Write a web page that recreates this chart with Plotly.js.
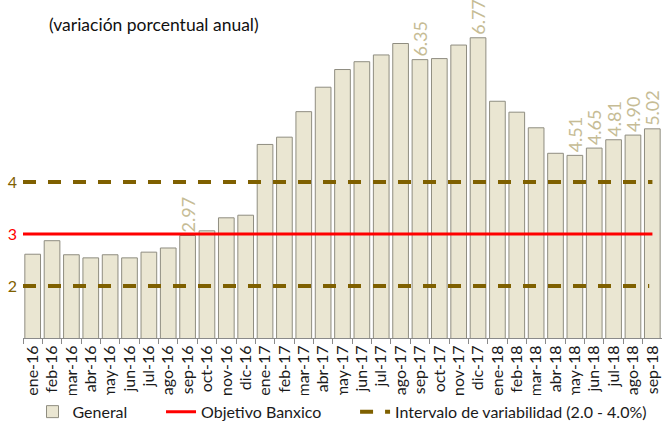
<!DOCTYPE html>
<html>
<head>
<meta charset="utf-8">
<script src="https://cdn.plot.ly/plotly-3.0.1.min.js"></script>
<style>html,body{margin:0;padding:0;background:#fff;}#chart{width:662px;height:421px;}</style>
</head>
<body>
<div id="chart"></div>
<script>
var categories = ["ene-16","feb-16","mar-16","abr-16","may-16","jun-16","jul-16","ago-16","sep-16","oct-16","nov-16","dic-16",
  "ene-17","feb-17","mar-17","abr-17","may-17","jun-17","jul-17","ago-17","sep-17","oct-17","nov-17","dic-17",
  "ene-18","feb-18","mar-18","abr-18","may-18","jun-18","jul-18","ago-18","sep-18"];
var generalValues = [2.61,2.87,2.60,2.54,2.60,2.54,2.65,2.73,2.97,3.06,3.31,3.36,
  4.72,4.86,5.35,5.82,6.16,6.31,6.44,6.66,6.35,6.37,6.63,6.77,
  5.55,5.34,5.04,4.55,4.51,4.65,4.81,4.90,5.02];
var labelledMonths = ["sep-16","sep-17","dic-17","may-18","jun-18","jul-18","ago-18","sep-18"];
var objetivo = 3.0;
var intervaloBajo = 2.0;
var intervaloAlto = 4.0;
var yTickValues = [2,3,4];
var yTickColors = ["#7F6000","#FF0000","#7F6000"];
var seriesNames = ["General", "Objetivo Banxico", "Intervalo de variabilidad (2.0 - 4.0%)"];

var barText = categories.map(function(c,i){
  return labelledMonths.indexOf(c) >= 0 ? generalValues[i].toFixed(2) : "";
});
var pad = "\u00a0\u00a0\u00a0\u00a0\u00a0\u00a0\u00a0";

var olive = "#7F6000";
var traces = [
  {
    type: "bar", name: seriesNames[0] + pad, x: categories, y: generalValues,
    marker: {color: "#EAE6D2", line: {color: "#8F8D80", width: 1}},
    text: barText, textposition: "outside", textangle: -90,
    constraintext: "none", cliponaxis: false,
    textfont: {family: "Lato, 'Open Sans', sans-serif", size: 18, color: "#C6BC95"},
    hoverinfo: "x+y"
  },
  {
    type: "scatter", mode: "lines", name: seriesNames[1] + pad,
    x: [0, 0.985], y: [objetivo, objetivo], xaxis: "x2",
    line: {color: "#FF0000", width: 3}
  },
  {
    type: "scatter", mode: "lines", name: seriesNames[2],
    x: [0, 0.985], y: [intervaloAlto, intervaloAlto], xaxis: "x2",
    line: {color: olive, width: 4, dash: "13px,12px"}
  },
  {
    type: "scatter", mode: "lines", name: "Intervalo bajo", showlegend: false,
    x: [0, 0.98], y: [intervaloBajo, intervaloBajo], xaxis: "x2",
    line: {color: olive, width: 4, dash: "13px,12px"}
  }
];

var font = "Lato, 'Open Sans', sans-serif";
var layout = {
  width: 662, height: 421,
  margin: {l: 23, r: 0, t: 5, b: 83},
  paper_bgcolor: "#fff", plot_bgcolor: "#fff",
  font: {family: font, size: 14, color: "#1a1a1a"},
  showlegend: true,
  bargap: 0.19,
  xaxis: {
    type: "category", range: [-0.5, 32.5],
    tickangle: -90, tickfont: {family: font, size: 16, color: "#1a1a1a"},
    showline: true, linecolor: "#8a8a8a", linewidth: 1,
    ticks: "outside", ticklen: 5, tickcolor: "#8a8a8a", tickson: "boundaries",
    showgrid: false, zeroline: false, fixedrange: true
  },
  xaxis2: {overlaying: "x", range: [0, 1], visible: false, fixedrange: true},
  yaxis: {
    range: [1, 7.4],
    tickmode: "array", tickvals: yTickValues,
    ticktext: yTickValues.map(function(v,i){return '<span style="color:'+yTickColors[i]+'">'+v+'</span>';}),
    tickfont: {family: font, size: 16},
    ticklabelstandoff: 5,
    showgrid: false, zeroline: false, showline: false, ticks: "", fixedrange: true
  },
  legend: {
    orientation: "h", x: 0.5, xanchor: "center",
    yref: "container", y: 0.022, yanchor: "middle",
    font: {family: font, size: 16, color: "#1a1a1a"},
    itemwidth: 30, tracegroupgap: 0
  },
  annotations: [{
    text: "(variación porcentual anual)", xref: "paper", yref: "paper",
    x: (47-23)/639, y: (338 - 25) / 333, xanchor: "left", yanchor: "middle",
    showarrow: false, font: {family: font, size: 17.5, color: "#111"}
  }]
};

Plotly.newPlot("chart", traces, layout, {displayModeBar: false, staticPlot: true});
</script>
</body>
</html>
